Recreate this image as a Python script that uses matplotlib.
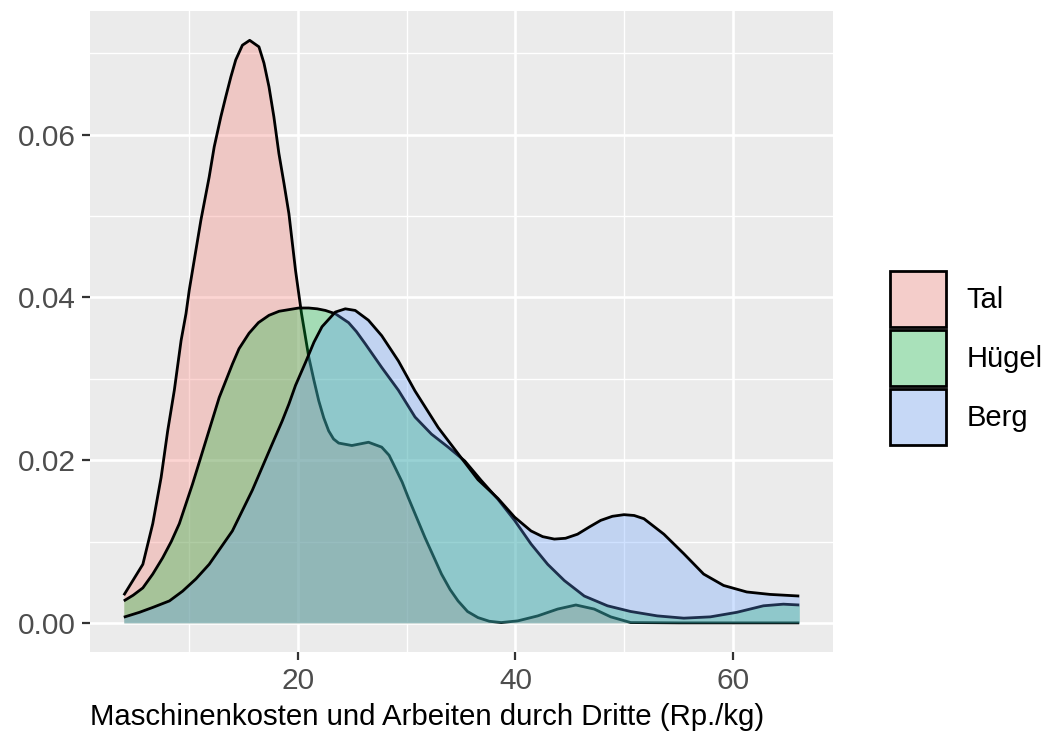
import matplotlib
matplotlib.use('Agg')
import matplotlib.pyplot as plt
from matplotlib.colors import to_rgb
from matplotlib.patches import Patch
from matplotlib.ticker import MultipleLocator

# density curves (x in Rp./kg, y = density)
tal_x = [4.04, 4.87, 5.79, 6.70, 7.47, 8.07, 8.68, 9.30, 9.75, 10.05, 10.51, 11.12,
         11.88, 12.34, 12.95, 13.41, 13.87, 14.32, 14.93, 15.6, 16.45, 16.91, 17.37,
         17.82, 18.28, 18.75, 19.20, 19.81, 20.36, 21.02, 21.5, 21.94, 22.4, 22.85,
         23.3, 23.77, 24.98, 26.51, 27.72, 28.4, 28.95, 29.6, 30.16, 31.69, 33.21,
         34.0, 34.73, 35.6, 36.56, 37.6, 38.69, 40.22, 42.05, 43.88, 45.55, 47.23,
         48.75, 50.58, 55.0, 60.0, 66.06]
tal_y = [0.0034, 0.0052, 0.0072, 0.0122, 0.0179, 0.0236, 0.0286, 0.0347, 0.0380,
         0.0409, 0.0446, 0.0495, 0.0548, 0.0585, 0.0622, 0.0647, 0.0671, 0.0692,
         0.0710, 0.0716, 0.0708, 0.0688, 0.0659, 0.0622, 0.0577, 0.0540, 0.0503,
         0.0433, 0.0380, 0.0327, 0.0298, 0.0273, 0.0252, 0.0236, 0.0226, 0.0221,
         0.0218, 0.0222, 0.0216, 0.0206, 0.0191, 0.0173, 0.0154, 0.0105, 0.0060,
         0.0041, 0.0027, 0.0014, 0.00065, 0.0002, 0.00004, 0.00025, 0.00086, 0.0017,
         0.0022, 0.0017, 0.00074, 0.00004, 0.0, 0.0, 0.0]

huegel_x = [4.04, 4.9, 5.79, 6.70, 7.61, 8.4, 9.14, 10.36, 11.58, 12.80, 14.01, 14.62,
            15.54, 16.4, 17.37, 18.3, 19.20, 20.1, 21.02, 21.8, 22.55, 23.46, 24.68,
            25.4, 26.21, 27.72, 29.25, 30.78, 32.29, 33.82, 35.35, 36.86, 38.39, 39.92,
            41.43, 42.96, 44.49, 46.32, 48.45, 50.58, 53.02, 55.46, 57.89, 60.33, 62.77,
            64.60, 66.06]
huegel_y = [0.0027, 0.0034, 0.0043, 0.0060, 0.0080, 0.0100, 0.0122, 0.0171, 0.0224,
            0.0277, 0.0318, 0.0337, 0.0356, 0.0369, 0.0378, 0.0383, 0.0385, 0.0387,
            0.0387, 0.0386, 0.0384, 0.0380, 0.0369, 0.0358, 0.0343, 0.0314, 0.0286,
            0.0253, 0.0232, 0.0216, 0.0199, 0.0175, 0.0152, 0.0126, 0.0097, 0.0072,
            0.0052, 0.0033, 0.0021, 0.0014, 0.00086, 0.00058, 0.00074, 0.0013, 0.0021,
            0.0023, 0.0022]

berg_x = [4.04, 5.48, 6.70, 8.23, 9.44, 10.66, 11.88, 14.01, 15.84, 17.67, 18.58,
          19.20, 19.81, 20.72, 21.5, 22.24, 23.46, 24.38, 25.29, 26.5, 27.72, 29.25,
          30.78, 32.91, 34.73, 36.56, 38.39, 39.92, 41.43, 42.5, 43.57, 44.6, 45.70,
          46.8, 47.83, 48.9, 49.97, 50.9, 51.80, 53.63, 55.46, 57.28, 59.11, 61.24,
          63.37, 66.06]
berg_y = [0.0007, 0.0013, 0.0019, 0.0027, 0.0039, 0.0054, 0.0072, 0.0113, 0.0163,
          0.0220, 0.0248, 0.0269, 0.0292, 0.0320, 0.0345, 0.0364, 0.0382, 0.0386,
          0.0384, 0.0372, 0.0353, 0.0322, 0.0285, 0.0240, 0.0208, 0.0176, 0.0153,
          0.0130, 0.0113, 0.0106, 0.0103, 0.0104, 0.0109, 0.0118, 0.0126, 0.0131,
          0.0133, 0.0132, 0.0128, 0.0109, 0.0085, 0.0060, 0.0046, 0.0038, 0.0035,
          0.0033]

groups = ['Tal', 'Hügel', 'Berg']
fills = ['#F8766D', '#00BA38', '#619CFF']
ALPHA = 0.3

plt.rcParams['font.family'] = ['Liberation Sans', 'DejaVu Sans']

fig = plt.figure(figsize=(10.53, 7.40), dpi=100)
ax = fig.add_axes([0.0855, 0.1189, 0.7056, 0.8662])
ax.set_facecolor('#EBEBEB')

series = [(tal_x, tal_y), (huegel_x, huegel_y), (berg_x, berg_y)]
for i, ((xs, ys), col) in enumerate(zip(series, fills)):
    ax.fill_between(xs, 0, ys, color=col, alpha=ALPHA, lw=0, zorder=3 + 2 * i)
    ax.plot(xs, ys, color='black', lw=2.0, zorder=4 + 2 * i,
            solid_joinstyle='round', solid_capstyle='butt')

ax.set_xlim(0.94, 69.16)
ax.set_ylim(-0.00358, 0.0752)
ax.xaxis.set_major_locator(MultipleLocator(20))
ax.xaxis.set_minor_locator(MultipleLocator(10))
ax.yaxis.set_major_locator(MultipleLocator(0.02))
ax.yaxis.set_minor_locator(MultipleLocator(0.01))
ax.yaxis.set_major_formatter(lambda v, p: f'{v:.2f}')
ax.grid(which='major', color='white', lw=1.9, zorder=1)
ax.grid(which='minor', color='white', lw=1.0, zorder=1)
ax.set_axisbelow(True)
for s in ax.spines.values():
    s.set_visible(False)
ax.tick_params(which='major', length=6.0, width=1.6, color='#333333',
               labelsize=21.5, labelcolor='#4D4D4D', pad=4.5)
ax.tick_params(which='minor', length=0)

ax.set_xlabel('Maschinenkosten und Arbeiten durch Dritte (Rp./kg)',
              fontsize=21.2, color='black', loc='left', labelpad=6)

# legend keys sit on a grey95 key background in the reference
key_bg = (0.949, 0.949, 0.949)
key_cols = [tuple(ALPHA * a + (1 - ALPHA) * b for a, b in zip(to_rgb(c), key_bg))
            for c in fills]
handles = [Patch(facecolor=c, edgecolor='black', lw=2.0) for c in key_cols]
ax.legend(handles, groups, loc='center left', bbox_to_anchor=(1.077, 0.459),
          frameon=False, fontsize=21, handlelength=1.92, handleheight=2.58,
          labelspacing=0.1, handletextpad=0.7, borderaxespad=0, borderpad=0)

fig.savefig('out.png', dpi=100)
